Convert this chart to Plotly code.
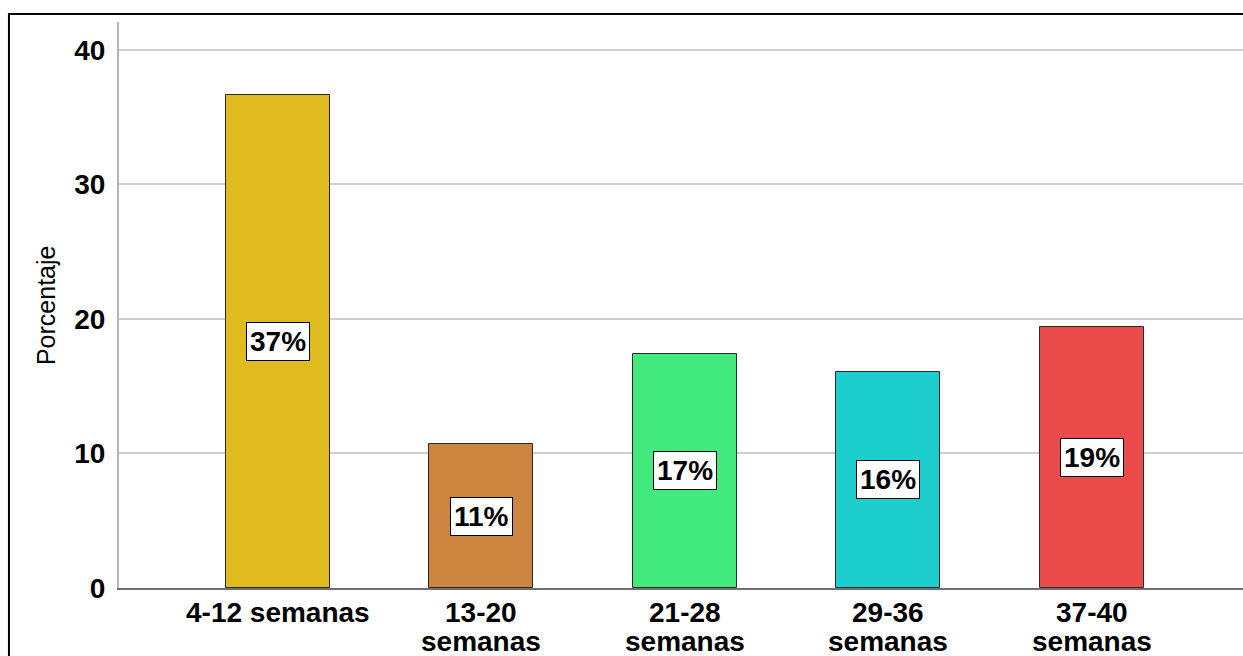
import plotly.graph_objects as go

# Gestational age groups and share of cases (%)
categorias = ["4-12 semanas", "13-20<br>semanas", "21-28<br>semanas",
              "29-36<br>semanas", "37-40<br>semanas"]
porcentajes = [36.65, 10.7, 17.4, 16.06, 19.4]
colores = ["#E0BB20", "#CC853E", "#42E97D", "#1DCECE", "#EC4B4B"]
y_ticks = [0, 10, 20, 30, 40]

FONT = "Liberation Sans, Arial"

fig = go.Figure()
fig.add_trace(go.Bar(
    x=categorias,
    y=porcentajes,
    width=0.511,
    marker=dict(color=colores, line=dict(color="#2a2a2a", width=1)),
    hoverinfo="skip",
))

# Percentage boxes at mid-height of each bar
for cat, val in zip(categorias, porcentajes):
    fig.add_annotation(
        x=cat, y=val / 2, xref="x", yref="y",
        text=f"<b>{round(val)}%</b>", showarrow=False,
        font=dict(family=FONT, size=28, color="black"),
        bgcolor="white", bordercolor="black", borderwidth=1, borderpad=3,
        xanchor="center", yanchor="middle",
    )

# Category labels under the axis, drawn line by line for tight spacing
line_tops = [-0.0145, -0.066]
for cat in categorias:
    for i, part in enumerate(cat.split("<br>")):
        fig.add_annotation(
            x=cat, y=line_tops[i], xref="x", yref="paper",
            text=part, showarrow=False,
            font=dict(family=FONT, size=28, color="black", weight="bold"),
            xanchor="center", yanchor="top", borderpad=0,
        )

# Y axis title
fig.add_annotation(
    x=-0.0649, y=0.5, xref="paper", yref="paper",
    text="Porcentaje", textangle=-90, showarrow=False,
    font=dict(family=FONT, size=25, color="black"),
    xanchor="center", yanchor="middle",
)

# Outer frame
fig.add_shape(type="rect", xref="paper", yref="paper",
              x0=-0.0979, x1=1.05, y0=-0.3, y1=1.0141,
              line=dict(color="black", width=2), fillcolor="rgba(0,0,0,0)",
              layer="above")

fig.update_layout(
    width=1243, height=656,
    margin=dict(l=119, r=0, t=22, b=68, autoexpand=False),
    paper_bgcolor="white", plot_bgcolor="white",
    showlegend=False,
    bargap=0,
    xaxis=dict(
        type="category",
        range=[-0.781, 4.742],
        automargin=False,
        showgrid=False, zeroline=False,
        showline=True, linecolor="#707070", linewidth=2,
        ticks="", showticklabels=False,
    ),
    yaxis=dict(
        range=[0, 42.08],
        automargin=False,
        tickvals=y_ticks,
        ticktext=[str(t) for t in y_ticks],
        showgrid=True, gridcolor="#cfcfcf", gridwidth=2,
        zeroline=False,
        showline=True, linecolor="#b5b5b5", linewidth=2,
        ticks="", ticklabelstandoff=6,
        tickfont=dict(family=FONT, size=28, color="black", weight="bold"),
    ),
)

fig.write_html("out.html")
